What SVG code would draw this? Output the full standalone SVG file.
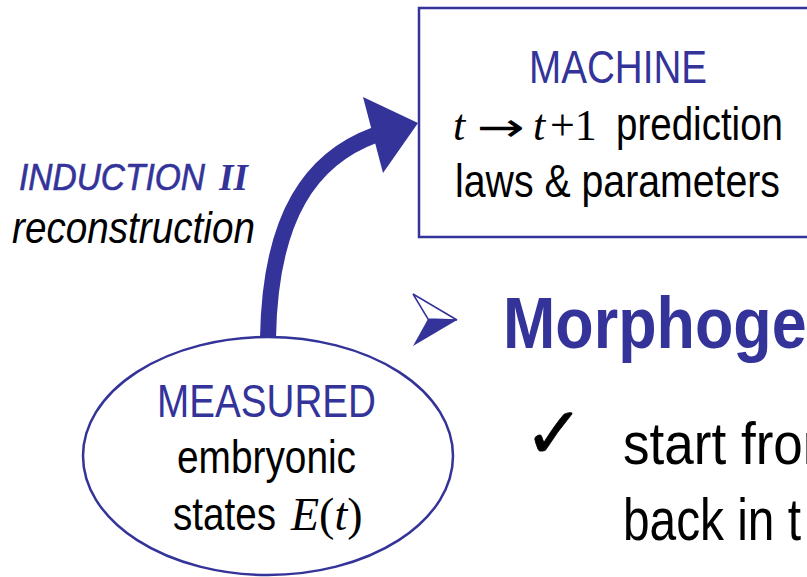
<svg xmlns="http://www.w3.org/2000/svg" width="807" height="577" viewBox="0 0 807 577">
<style>
.blue{fill:#333399}
.blk{fill:#000}
.nar{font-family:"Liberation Sans",Arial,sans-serif}
.ser{font-family:"Liberation Serif","DejaVu Serif",serif}
.shape{fill:#fff;stroke:#333399;stroke-width:2.5}
</style>
<rect width="807" height="577" fill="#fff"/>
<g id="connectors">
  <path d="M268,338 C270,215 312,158 375,135" fill="none" stroke="#333399" stroke-width="16"/>
  <polygon points="363,97 418,123 383,173" fill="#333399"/>
</g>
<g id="machine">
  <rect class="shape" x="419" y="8" width="400" height="229"/>
  <text class="nar blue" x="529" y="83" font-size="46" textLength="178" lengthAdjust="spacingAndGlyphs">MACHINE</text>
  <text class="ser blk" y="140" font-size="44"><tspan x="453" font-style="italic">t</tspan><tspan x="533" font-style="italic">t</tspan><tspan x="550">+1</tspan></text>
  <text x="477" y="141" font-size="40" font-family="DejaVu Sans, sans-serif" class="blk" textLength="48" lengthAdjust="spacingAndGlyphs">→</text>
  <text class="nar blk" x="616" y="140" font-size="46" textLength="167" lengthAdjust="spacingAndGlyphs">prediction</text>
  <text class="nar blk" x="455" y="197" font-size="46" textLength="325" lengthAdjust="spacingAndGlyphs">laws &amp; parameters</text>
</g>
<g id="measured">
  <ellipse class="shape" cx="268" cy="456" rx="185" ry="119"/>
  <text class="nar blue" x="157" y="417" font-size="46" textLength="219" lengthAdjust="spacingAndGlyphs">MEASURED</text>
  <text class="nar blk" x="177" y="473" font-size="46" textLength="179" lengthAdjust="spacingAndGlyphs">embryonic</text>
  <text class="nar blk" x="173" y="530" font-size="46" textLength="103" lengthAdjust="spacingAndGlyphs">states</text>
  <text class="ser blk" y="530" font-size="46"><tspan x="291" font-style="italic">E</tspan><tspan>(</tspan><tspan font-style="italic">t</tspan><tspan>)</tspan></text>
</g>
<g id="induction-label">
  <text class="nar blue" x="19" y="190" font-size="36" font-style="italic" textLength="186" lengthAdjust="spacingAndGlyphs" stroke="#333399" stroke-width="0.6">INDUCTION</text>
  <text class="ser blue" x="219" y="190" font-size="37" font-style="italic" font-weight="bold">II</text>
  <text class="nar blk" x="12" y="243" font-size="44" font-style="italic" textLength="243" lengthAdjust="spacingAndGlyphs">reconstruction</text>
</g>
<g id="bullets">
  <polygon points="413,294 457,320 428,319" fill="#fff" stroke="#333399" stroke-width="1.5"/>
  <polygon points="428,319 457,320 413,346" fill="#333399"/>
  <text class="nar blue" x="503" y="348" font-size="73" font-weight="bold" textLength="342" lengthAdjust="spacingAndGlyphs">Morphogen</text>
  <text x="524" y="458" font-size="72" font-family="DejaVu Sans, sans-serif" class="blk" stroke="#000" stroke-width="0.8">✓</text>
  <text class="nar blk" x="623" y="464" font-size="60" textLength="224" lengthAdjust="spacingAndGlyphs">start from</text>
  <text class="nar blk" x="623" y="540" font-size="60" textLength="178" lengthAdjust="spacingAndGlyphs">back in t</text>
</g>
</svg>
